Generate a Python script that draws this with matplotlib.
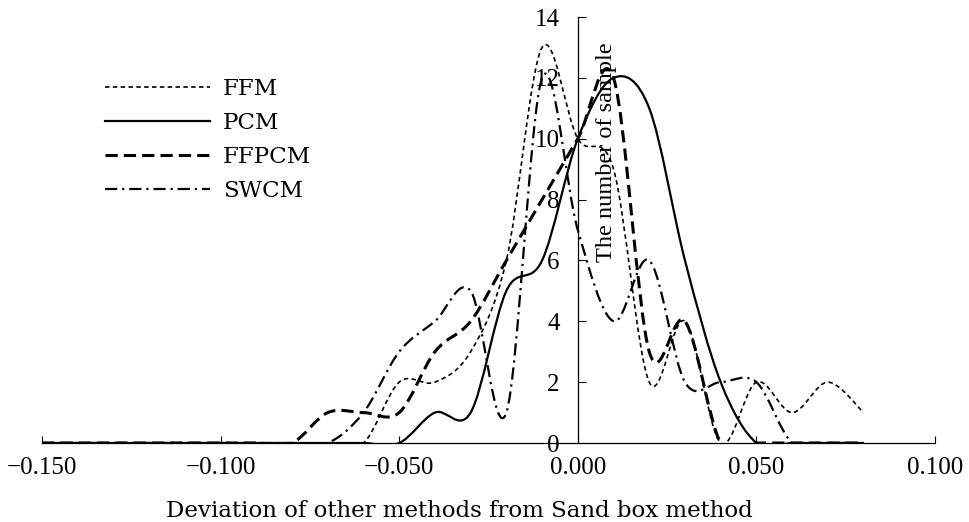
import numpy as np
import matplotlib
matplotlib.use('Agg')
import matplotlib.pyplot as plt
from matplotlib.path import Path
from matplotlib.patches import PathPatch
from matplotlib.lines import Line2D
from matplotlib.ticker import FuncFormatter

# histogram of deviations, one bin every 0.01
deviation = [-0.15, -0.14, -0.13, -0.12, -0.11, -0.10, -0.09, -0.08, -0.07, -0.06,
             -0.05, -0.04, -0.03, -0.02, -0.01, 0.00, 0.01, 0.02, 0.03, 0.04,
             0.05, 0.06, 0.07, 0.08]
ffm = [0, 0, 0, 0, 0, 0, 0, 0, 0, 0,
       2, 2, 3, 6, 13, 10, 9, 2, 4, 0,
       2, 1, 2, 1]
pcm = [0, 0, 0, 0, 0, 0, 0, 0, 0, 0,
       0, 1, 1, 5, 6, 10, 12, 11, 6, 2,
       0, 0, 0, 0]
ffpcm = [0, 0, 0, 0, 0, 0, 0, 0, 1, 1,
         1, 3, 4, 6, 8, 10, 12, 3, 4, 0,
         0, 0, 0, 0]
swcm = [0, 0, 0, 0, 0, 0, 0, 0, 0, 1,
        3, 4, 5, 1, 12, 7, 4, 6, 2, 2,
        2, 0, 0, 0]

x_ticks = [-0.15, -0.10, -0.05, 0.0, 0.05, 0.10]
y_ticks = [0, 2, 4, 6, 8, 10, 12, 14]

series = [
    ('FFM', ffm, 1.2, (0, (2.7, 2.0))),
    ('PCM', pcm, 1.6, '-'),
    ('FFPCM', ffpcm, 2.2, (0, (4.0, 2.0))),
    ('SWCM', swcm, 1.6, (0, (5.5, 2.2, 1.0, 2.2))),
]


def smooth_path(xs, ys):
    # spreadsheet-style smoothed line: cubic bezier through every point
    pts = np.column_stack([xs, ys]).astype(float)
    n = len(pts)
    verts = [pts[0]]
    codes = [Path.MOVETO]
    for i in range(n - 1):
        p0 = pts[i - 1] if i > 0 else pts[i]
        p1 = pts[i]
        p2 = pts[i + 1]
        p3 = pts[i + 2] if i + 2 < n else pts[i + 1]
        verts += [p1 + (p2 - p0) / 6.0, p2 - (p3 - p1) / 6.0, p2]
        codes += [Path.CURVE4] * 3
    return Path(verts, codes)


fig = plt.figure(figsize=(9.69, 5.22), dpi=100)
ax = fig.add_axes([42 / 969, 79 / 522, 893 / 969, 426 / 522])

handles = []
for name, vals, lw, ls in series:
    patch = PathPatch(smooth_path(deviation, vals), fill=False, edgecolor='black',
                      lw=lw, linestyle=ls, capstyle='butt', joinstyle='round')
    ax.add_patch(patch)
    handles.append(Line2D([], [], color='black', lw=lw, linestyle=ls, label=name))

ax.set_xlim(-0.15, 0.10)
ax.set_ylim(0, 14)

ax.spines['top'].set_visible(False)
ax.spines['right'].set_visible(False)
ax.spines['left'].set_position(('data', 0))
ax.spines['left'].set_linewidth(0.9)
ax.spines['bottom'].set_linewidth(0.9)

ax.set_xticks(x_ticks)
ax.set_yticks(y_ticks)
ax.xaxis.set_major_formatter(FuncFormatter(lambda v, p: f'{v:.3f}'.replace('-', '\u2212')))
ax.tick_params(axis='x', direction='in', length=5, pad=10)
ax.tick_params(axis='y', direction='in', length=6, pad=13)
for lab in ax.get_xticklabels() + ax.get_yticklabels():
    lab.set_fontfamily('Liberation Serif')
    lab.set_fontsize(18)

ax.set_xlabel('Deviation of other methods from Sand box method',
              family='DejaVu Serif', fontsize=16.5)
ax.xaxis.set_label_coords(0.467, -0.133)
ax.set_ylabel('The number of sample', family='Liberation Serif', fontsize=17.5)
ax.yaxis.set_label_coords(0.644, 0.683)

ax.legend(handles=handles, loc='upper left', bbox_to_anchor=(105 / 969, 0.85),
          bbox_transform=fig.transFigure, frameon=False, borderpad=0,
          borderaxespad=0, handlelength=4.6, handletextpad=0.55, labelspacing=0.52,
          prop={'family': 'DejaVu Serif', 'size': 16.5})

fig.savefig('out.png', dpi=100)
